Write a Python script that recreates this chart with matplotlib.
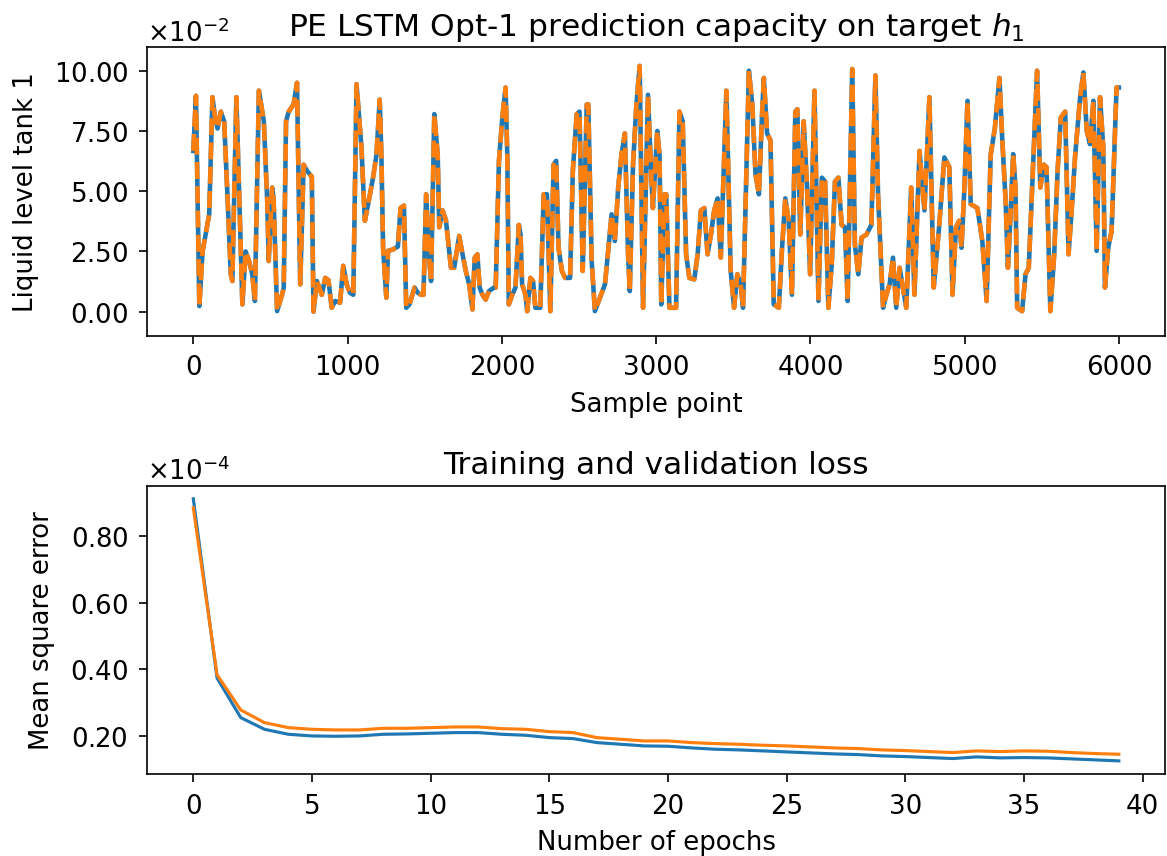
import numpy as np
import matplotlib
matplotlib.use("Agg")
import matplotlib.pyplot as plt
from matplotlib.ticker import ScalarFormatter, MultipleLocator

# --- liquid level of tank 1 (x1e-2), vertices ---
sample_idx = [0, 17, 39, 60, 103, 124, 140, 157, 178, 200, 221, 243, 253, 279, 318, 339, 361, 382, 399,
              425, 457, 479, 489, 511, 520, 543, 575, 586, 601, 618, 650, 672, 693, 715, 736, 768, 779, 801,
              833, 855, 876, 897, 919, 951, 972, 994, 1015, 1037, 1058, 1073, 1090, 1112, 1133, 1165, 1187,
              1208, 1219, 1230, 1251, 1262, 1294, 1326, 1343, 1365, 1380, 1401, 1434, 1455, 1476, 1492, 1509,
              1530, 1541, 1562, 1584, 1594, 1616, 1637, 1670, 1691, 1723, 1745, 1766, 1788, 1809, 1824, 1841,
              1856, 1874, 1895, 1916, 1949, 1960, 1981, 2003, 2024, 2035, 2045, 2067, 2088, 2110, 2121, 2131,
              2153, 2164, 2185, 2202, 2217, 2249, 2271, 2292, 2314, 2335, 2352, 2367, 2389, 2410, 2442, 2460,
              2485, 2503, 2524, 2550, 2560, 2582, 2603, 2636, 2668, 2689, 2711, 2732, 2754, 2775, 2797, 2818,
              2829, 2850, 2872, 2893, 2915, 2947, 2968, 2979, 3007, 3022, 3033, 3054, 3065, 3086, 3129, 3151,
              3172, 3194, 3215, 3247, 3269, 3290, 3312, 3333, 3355, 3376, 3398, 3419, 3455, 3483, 3505, 3526,
              3548, 3563, 3601, 3623, 3644, 3666, 3687, 3698, 3719, 3741, 3762, 3795, 3816, 3837, 3859, 3880,
              3902, 3915, 3934, 3956, 3977, 3998, 4026, 4052, 4074, 4095, 4116, 4138, 4159, 4181, 4202, 4224,
              4241, 4271, 4288, 4310, 4331, 4363, 4395, 4421, 4438, 4471, 4492, 4513, 4535, 4556, 4578, 4599,
              4621, 4653, 4674, 4707, 4739, 4771, 4799, 4835, 4868, 4900, 4921, 4943, 4964, 4979, 4996, 5018,
              5039, 5082, 5114, 5142, 5168, 5195, 5225, 5243, 5265, 5280, 5297, 5314, 5329, 5340, 5372, 5394,
              5415, 5437, 5469, 5490, 5512, 5530, 5555, 5580, 5602, 5623, 5651, 5673, 5694, 5716, 5748, 5769,
              5791, 5812, 5834, 5855, 5877, 5898, 5909, 5930, 5952, 5984, 5999]
level_e2 = [6.67, 8.96, 0.23, 2.5, 4.04, 8.9, 8.1, 7.6, 8.3, 7.9, 4.87, 1.55, 1.27, 8.9, 0.3, 2.5, 2.1, 1.55, 0.44,
            9.17, 7.9, 4.6, 2.1, 5.15, 4.7, 0.02, 0.7, 1.0, 7.9, 8.3, 8.6, 9.5, 1.13, 6.1, 5.85, 5.6, 0.0, 1.27,
            0.7, 1.4, 1.3, 0.16, 0.44, 0.37, 1.9, 1.13, 0.78, 0.7, 9.44, 8.2, 6.8, 3.77, 4.46, 5.56, 6.5,
            8.8, 6.5, 2.65, 0.58, 2.52, 2.58, 2.7, 4.3, 4.4, 0.16, 0.3, 1.0, 0.78, 0.7, 0.7, 4.87,
            2.1, 1.27, 8.2, 6.5, 3.5, 4.2, 3.8, 1.82, 1.82, 3.14, 2.38, 1.69, 1.13, 0.09, 2.24, 2.38,
            1.0, 0.7, 0.5, 0.85, 1.0, 1.0, 6.26, 8.06, 9.3, 6.5, 0.3, 0.7, 1.0, 3.6, 3.2, 1.13,
            0.7, 0.02, 1.4, 1.27, 0.16, 0.16, 4.87, 4.87, 0.02, 6.1, 6.26, 2.65, 1.69, 1.4, 1.4, 5.85,
            8.2, 8.3, 1.69, 8.6, 8.6, 2.1, 0.02, 0.58, 1.13, 2.52, 4.04, 2.93, 5.15, 6.5, 7.4, 2.38,
            0.85, 6.1, 8.6, 10.2, 0.16, 9.0, 5.7, 4.3, 7.5, 6.5, 0.3, 4.87, 4.87, 0.16, 0.16, 8.3,
            7.9, 2.38, 1.4, 1.34, 2.38, 4.2, 4.3, 2.38, 3.2, 4.2, 4.7, 2.24, 9.17, 1.69, 0.16, 1.55,
            1.13, 0.16, 10.0, 8.6, 5.7, 4.87, 8.3, 9.7, 7.4, 7.1, 0.3, 0.16, 2.65, 4.7, 3.77, 0.7,
            8.3, 8.4, 3.2, 7.9, 5.3, 1.55, 9.17, 0.44, 5.56, 5.4, 0.16, 1.96, 5.4, 5.56, 3.6, 3.5,
            0.44, 10.07, 2.8, 1.55, 3.07, 3.2, 3.6, 9.8, 4.87, 0.16, 0.7, 1.13, 2.24, 0.16, 1.82, 1.0,
            0.16, 5.15, 0.7, 6.67, 4.2, 8.9, 1.0, 3.6, 6.4, 6.0, 0.7, 3.5, 3.77, 2.65, 4.87, 8.75,
            4.46, 4.3, 2.93, 0.44, 6.5, 7.6, 9.7, 7.2, 4.6, 1.82, 4.04, 6.54, 5.15, 0.16, 0.02, 1.55,
            1.82, 5.15, 10.0, 5.15, 6.1, 6.0, 0.02, 2.38, 5.85, 8.06, 8.3, 2.38, 4.3, 6.5, 8.9, 9.93,
            7.5, 6.95, 8.75, 2.52, 8.9, 6.8, 1.0, 2.65, 3.35, 9.3, 9.3]

# --- training history (x1e-4) ---
epochs = list(range(40))
train_loss_e4 = [0.913, 0.374, 0.255, 0.220, 0.205, 0.200, 0.199, 0.200, 0.205, 0.206,
                 0.208, 0.210, 0.210, 0.205, 0.202, 0.195, 0.192, 0.180, 0.175, 0.170,
                 0.169, 0.164, 0.160, 0.158, 0.155, 0.152, 0.149, 0.146, 0.144, 0.140,
                 0.138, 0.135, 0.132, 0.137, 0.134, 0.135, 0.134, 0.131, 0.128, 0.125]
val_loss_e4 = [0.886, 0.384, 0.278, 0.240, 0.225, 0.220, 0.218, 0.218, 0.223, 0.223,
               0.225, 0.227, 0.227, 0.222, 0.220, 0.213, 0.210, 0.195, 0.190, 0.185,
               0.185, 0.180, 0.177, 0.175, 0.172, 0.170, 0.167, 0.164, 0.162, 0.158,
               0.156, 0.153, 0.150, 0.155, 0.153, 0.155, 0.154, 0.150, 0.147, 0.145]


class FixedOrderFormatter(ScalarFormatter):
    # scalar formatter with a fixed exponent and 2 decimals
    def __init__(self, order):
        super().__init__(useMathText=True)
        self.order = order

    def _set_order_of_magnitude(self):
        self.orderOfMagnitude = self.order

    def _set_format(self):
        self.format = r"$\mathdefault{%.2f}$"


plt.rcParams["font.size"] = 12.5
plt.rcParams["xtick.major.pad"] = 5
plt.rcParams["ytick.major.pad"] = 5
plt.rcParams["xtick.major.size"] = 4
plt.rcParams["ytick.major.size"] = 4

h1_true = np.array(level_e2) * 1e-2
h1_pred = np.array(level_e2) * 1e-2
train_loss = np.array(train_loss_e4) * 1e-4
val_loss = np.array(val_loss_e4) * 1e-4

fig = plt.figure(figsize=(1167 / 150, 857 / 150), dpi=150)
ax1 = fig.add_axes([0.126, 0.6071, 0.8724, 0.3365])
ax2 = fig.add_axes([0.126, 0.0957, 0.8724, 0.3364])

# prediction vs target
ax1.plot(sample_idx, h1_true, color="tab:blue", linewidth=2.2)
ax1.plot(sample_idx, h1_pred, color="tab:orange", linewidth=2.2, linestyle="--")
ax1.set_ylim(-0.0100, 0.1097)
ax1.yaxis.set_major_locator(MultipleLocator(0.025))
ax1.yaxis.set_major_formatter(FixedOrderFormatter(-2))
ax1.set_title("PE LSTM Opt-1 prediction capacity on target $h_1$")
ax1.set_xlabel("Sample point", labelpad=5)
ax1.set_ylabel("Liquid level tank 1", labelpad=7)

# loss curves
ax2.plot(epochs, train_loss, color="tab:blue")
ax2.plot(epochs, val_loss, color="tab:orange")
ax2.yaxis.set_major_locator(MultipleLocator(0.2e-4))
ax2.yaxis.set_major_formatter(FixedOrderFormatter(-4))
ax2.set_title("Training and validation loss")
ax2.set_xlabel("Number of epochs", labelpad=5)
ax2.set_ylabel("Mean square error", labelpad=7)

fig.savefig("out.png", dpi=150)
